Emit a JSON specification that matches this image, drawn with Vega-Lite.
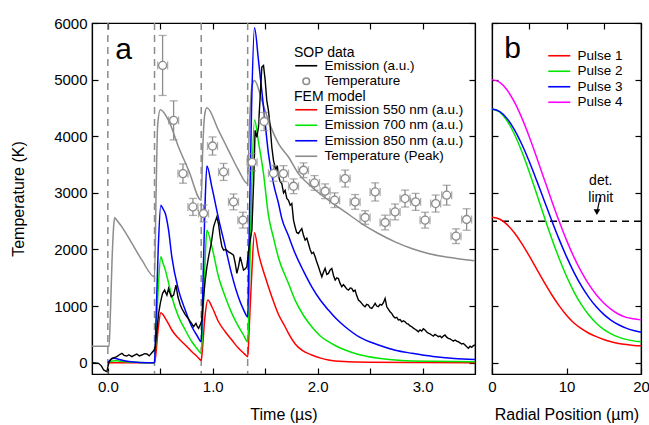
{
  "$schema": "https://vega.github.io/schema/vega-lite/v6.json",
  "background": "white",
  "padding": {"left": 10, "top": 15, "right": 0, "bottom": 0},
  "spacing": 10,
  "datasets": {
    "pulses": [{"t": 0}, {"t": 0.445}, {"t": 0.89}, {"t": 1.333}],
    "sop": [
      {"t": -0.151, "v": 0}, {"t": -0.12, "v": -5}, {"t": -0.088, "v": -12}, {"t": -0.06, "v": -60},
      {"t": -0.04, "v": -129}, {"t": -0.02, "v": -150}, {"t": -0.009, "v": -158}, {"t": 0.0, "v": -80},
      {"t": 0.013, "v": 18}, {"t": 0.025, "v": 50}, {"t": 0.038, "v": 76}, {"t": 0.06, "v": 90},
      {"t": 0.086, "v": 106}, {"t": 0.11, "v": 140}, {"t": 0.134, "v": 165}, {"t": 0.155, "v": 130},
      {"t": 0.181, "v": 118}, {"t": 0.2, "v": 140}, {"t": 0.229, "v": 106}, {"t": 0.25, "v": 130},
      {"t": 0.276, "v": 153}, {"t": 0.3, "v": 120}, {"t": 0.324, "v": 135}, {"t": 0.35, "v": 160},
      {"t": 0.372, "v": 153}, {"t": 0.395, "v": 120}, {"t": 0.419, "v": 176}, {"t": 0.442, "v": 223},
      {"t": 0.452, "v": 282}, {"t": 0.468, "v": 576}, {"t": 0.484, "v": 871}, {"t": 0.5, "v": 1048},
      {"t": 0.512, "v": 1150}, {"t": 0.522, "v": 1224}, {"t": 0.541, "v": 1282}, {"t": 0.563, "v": 1194},
      {"t": 0.579, "v": 1312}, {"t": 0.592, "v": 1230}, {"t": 0.605, "v": 1164}, {"t": 0.627, "v": 1194},
      {"t": 0.649, "v": 1370}, {"t": 0.668, "v": 1164}, {"t": 0.691, "v": 1018}, {"t": 0.705, "v": 960},
      {"t": 0.722, "v": 900}, {"t": 0.738, "v": 850}, {"t": 0.754, "v": 811}, {"t": 0.77, "v": 770},
      {"t": 0.786, "v": 723}, {"t": 0.8, "v": 690}, {"t": 0.817, "v": 635}, {"t": 0.84, "v": 695},
      {"t": 0.852, "v": 640}, {"t": 0.865, "v": 607}, {"t": 0.884, "v": 682}, {"t": 0.897, "v": 753},
      {"t": 0.91, "v": 1100}, {"t": 0.928, "v": 1459}, {"t": 0.945, "v": 1700}, {"t": 0.96, "v": 1869},
      {"t": 0.985, "v": 2100}, {"t": 1.008, "v": 2399}, {"t": 1.025, "v": 2500}, {"t": 1.039, "v": 2575},
      {"t": 1.055, "v": 2450}, {"t": 1.071, "v": 2222}, {"t": 1.087, "v": 2050}, {"t": 1.103, "v": 1988},
      {"t": 1.125, "v": 2000}, {"t": 1.15, "v": 1958}, {"t": 1.175, "v": 1930}, {"t": 1.198, "v": 1900},
      {"t": 1.215, "v": 1750}, {"t": 1.23, "v": 1577}, {"t": 1.246, "v": 1700}, {"t": 1.262, "v": 1869},
      {"t": 1.278, "v": 1750}, {"t": 1.293, "v": 1635}, {"t": 1.31, "v": 1660}, {"t": 1.325, "v": 1693},
      {"t": 1.34, "v": 1950}, {"t": 1.357, "v": 2164}, {"t": 1.373, "v": 2340}, {"t": 1.39, "v": 3200},
      {"t": 1.404, "v": 4104}, {"t": 1.42, "v": 3980}, {"t": 1.436, "v": 4163}, {"t": 1.452, "v": 4700},
      {"t": 1.468, "v": 5220}, {"t": 1.484, "v": 5250}, {"t": 1.5, "v": 4986}, {"t": 1.515, "v": 4633},
      {"t": 1.531, "v": 4456}, {"t": 1.548, "v": 4162}, {"t": 1.563, "v": 3810}, {"t": 1.579, "v": 3575},
      {"t": 1.6, "v": 3399}, {"t": 1.615, "v": 3480}, {"t": 1.627, "v": 3300}, {"t": 1.642, "v": 3200},
      {"t": 1.658, "v": 3163}, {"t": 1.675, "v": 3000}, {"t": 1.69, "v": 3045}, {"t": 1.706, "v": 2900},
      {"t": 1.722, "v": 2869}, {"t": 1.738, "v": 2780}, {"t": 1.754, "v": 2811}, {"t": 1.77, "v": 2517},
      {"t": 1.785, "v": 2399}, {"t": 1.8, "v": 2300}, {"t": 1.817, "v": 2282}, {"t": 1.833, "v": 2330},
      {"t": 1.849, "v": 2370}, {"t": 1.865, "v": 2250}, {"t": 1.881, "v": 2164}, {"t": 1.897, "v": 2200},
      {"t": 1.912, "v": 2105}, {"t": 1.928, "v": 2000}, {"t": 1.944, "v": 1929}, {"t": 1.96, "v": 1950},
      {"t": 1.976, "v": 1870}, {"t": 1.992, "v": 1780}, {"t": 2.008, "v": 1693}, {"t": 2.024, "v": 1600},
      {"t": 2.04, "v": 1517}, {"t": 2.056, "v": 1600}, {"t": 2.071, "v": 1665}, {"t": 2.087, "v": 1560},
      {"t": 2.103, "v": 1577}, {"t": 2.119, "v": 1640}, {"t": 2.135, "v": 1665}, {"t": 2.151, "v": 1540},
      {"t": 2.167, "v": 1459}, {"t": 2.183, "v": 1500}, {"t": 2.198, "v": 1488}, {"t": 2.214, "v": 1400},
      {"t": 2.23, "v": 1341}, {"t": 2.246, "v": 1380}, {"t": 2.262, "v": 1341}, {"t": 2.278, "v": 1300},
      {"t": 2.294, "v": 1282}, {"t": 2.31, "v": 1320}, {"t": 2.325, "v": 1312}, {"t": 2.341, "v": 1260},
      {"t": 2.357, "v": 1282}, {"t": 2.373, "v": 1180}, {"t": 2.389, "v": 1106}, {"t": 2.405, "v": 1080},
      {"t": 2.42, "v": 1048}, {"t": 2.436, "v": 1010}, {"t": 2.452, "v": 988}, {"t": 2.468, "v": 1030},
      {"t": 2.484, "v": 1018}, {"t": 2.5, "v": 970}, {"t": 2.516, "v": 959}, {"t": 2.532, "v": 1000},
      {"t": 2.548, "v": 1048}, {"t": 2.563, "v": 1000}, {"t": 2.579, "v": 988}, {"t": 2.595, "v": 1030},
      {"t": 2.611, "v": 1018}, {"t": 2.627, "v": 1060}, {"t": 2.643, "v": 1136}, {"t": 2.659, "v": 988},
      {"t": 2.675, "v": 940}, {"t": 2.69, "v": 900}, {"t": 2.706, "v": 871}, {"t": 2.722, "v": 820},
      {"t": 2.738, "v": 790}, {"t": 2.754, "v": 800}, {"t": 2.77, "v": 753}, {"t": 2.786, "v": 760},
      {"t": 2.802, "v": 720}, {"t": 2.818, "v": 740}, {"t": 2.833, "v": 723}, {"t": 2.85, "v": 690},
      {"t": 2.865, "v": 680}, {"t": 2.881, "v": 650}, {"t": 2.897, "v": 635}, {"t": 2.913, "v": 610},
      {"t": 2.929, "v": 590}, {"t": 2.945, "v": 570}, {"t": 2.96, "v": 547}, {"t": 2.976, "v": 580},
      {"t": 2.992, "v": 560}, {"t": 3.008, "v": 600}, {"t": 3.024, "v": 577}, {"t": 3.04, "v": 540},
      {"t": 3.055, "v": 520}, {"t": 3.071, "v": 510}, {"t": 3.087, "v": 489}, {"t": 3.103, "v": 470},
      {"t": 3.119, "v": 500}, {"t": 3.135, "v": 480}, {"t": 3.151, "v": 459}, {"t": 3.167, "v": 470},
      {"t": 3.183, "v": 440}, {"t": 3.198, "v": 470}, {"t": 3.214, "v": 489}, {"t": 3.23, "v": 450},
      {"t": 3.246, "v": 430}, {"t": 3.262, "v": 420}, {"t": 3.278, "v": 400}, {"t": 3.294, "v": 380},
      {"t": 3.31, "v": 400}, {"t": 3.325, "v": 380}, {"t": 3.341, "v": 370}, {"t": 3.357, "v": 350},
      {"t": 3.373, "v": 330}, {"t": 3.389, "v": 340}, {"t": 3.405, "v": 312}, {"t": 3.421, "v": 280},
      {"t": 3.437, "v": 254}, {"t": 3.453, "v": 290}, {"t": 3.468, "v": 270}, {"t": 3.484, "v": 300},
      {"t": 3.5, "v": 312}
    ],
    "temp": [
      {"t": 0.522, "v": 5250, "lo": 4720, "hi": 5780}, {"t": 0.627, "v": 4280, "lo": 3935, "hi": 4625},
      {"t": 0.716, "v": 3340, "lo": 3170, "hi": 3510}, {"t": 0.811, "v": 2751, "lo": 2601, "hi": 2901},
      {"t": 0.912, "v": 2635, "lo": 2485, "hi": 2785}, {"t": 0.998, "v": 3827, "lo": 3667, "hi": 3987},
      {"t": 1.103, "v": 3369, "lo": 3219, "hi": 3519}, {"t": 1.198, "v": 2840, "lo": 2700, "hi": 2980},
      {"t": 1.287, "v": 2517, "lo": 2377, "hi": 2657}, {"t": 1.375, "v": 3540, "lo": 3390, "hi": 3690},
      {"t": 1.49, "v": 4260, "lo": 4100, "hi": 4420}, {"t": 1.579, "v": 3345, "lo": 3205, "hi": 3485},
      {"t": 1.674, "v": 3340, "lo": 3200, "hi": 3480}, {"t": 1.77, "v": 3116, "lo": 2986, "hi": 3246},
      {"t": 1.865, "v": 3399, "lo": 3269, "hi": 3529}, {"t": 1.97, "v": 3175, "lo": 3045, "hi": 3305},
      {"t": 2.071, "v": 3028, "lo": 2898, "hi": 3158}, {"t": 2.162, "v": 2870, "lo": 2740, "hi": 3000},
      {"t": 2.262, "v": 3252, "lo": 3102, "hi": 3402}, {"t": 2.357, "v": 2840, "lo": 2710, "hi": 2970},
      {"t": 2.452, "v": 2564, "lo": 2444, "hi": 2684}, {"t": 2.548, "v": 3016, "lo": 2856, "hi": 3176},
      {"t": 2.643, "v": 2476, "lo": 2346, "hi": 2606}, {"t": 2.738, "v": 2663, "lo": 2523, "hi": 2803},
      {"t": 2.833, "v": 2899, "lo": 2749, "hi": 3049}, {"t": 2.934, "v": 2840, "lo": 2690, "hi": 2990},
      {"t": 3.024, "v": 2517, "lo": 2377, "hi": 2657}, {"t": 3.125, "v": 2811, "lo": 2661, "hi": 2961},
      {"t": 3.23, "v": 2958, "lo": 2783, "hi": 3133}, {"t": 3.319, "v": 2234, "lo": 2104, "hi": 2364},
      {"t": 3.42, "v": 2529, "lo": 2339, "hi": 2719}
    ],
    "fem": [
      {"s": "Temperature (Peak)", "t": -0.151, "v": 290}, {"s": "Temperature (Peak)", "t": 0.012, "v": 290},
      {"s": "Temperature (Peak)", "t": 0.025, "v": 900}, {"s": "Temperature (Peak)", "t": 0.04, "v": 1800},
      {"s": "Temperature (Peak)", "t": 0.055, "v": 2400}, {"s": "Temperature (Peak)", "t": 0.065, "v": 2565},
      {"s": "Temperature (Peak)", "t": 0.08, "v": 2530}, {"s": "Temperature (Peak)", "t": 0.134, "v": 2399},
      {"s": "Temperature (Peak)", "t": 0.23, "v": 2106}, {"s": "Temperature (Peak)", "t": 0.325, "v": 1811},
      {"s": "Temperature (Peak)", "t": 0.445, "v": 1517}, {"s": "Temperature (Peak)", "t": 0.46, "v": 3000},
      {"s": "Temperature (Peak)", "t": 0.475, "v": 4200}, {"s": "Temperature (Peak)", "t": 0.5, "v": 4469},
      {"s": "Temperature (Peak)", "t": 0.579, "v": 4280}, {"s": "Temperature (Peak)", "t": 0.674, "v": 3810},
      {"s": "Temperature (Peak)", "t": 0.77, "v": 3399}, {"s": "Temperature (Peak)", "t": 0.89, "v": 2870},
      {"s": "Temperature (Peak)", "t": 0.905, "v": 3800}, {"s": "Temperature (Peak)", "t": 0.925, "v": 4400},
      {"s": "Temperature (Peak)", "t": 0.944, "v": 4504}, {"s": "Temperature (Peak)", "t": 1.055, "v": 4104},
      {"s": "Temperature (Peak)", "t": 1.15, "v": 3751}, {"s": "Temperature (Peak)", "t": 1.246, "v": 3399},
      {"s": "Temperature (Peak)", "t": 1.331, "v": 3164}, {"s": "Temperature (Peak)", "t": 1.35, "v": 4200},
      {"s": "Temperature (Peak)", "t": 1.375, "v": 4900}, {"s": "Temperature (Peak)", "t": 1.398, "v": 4986},
      {"s": "Temperature (Peak)", "t": 1.468, "v": 4633}, {"s": "Temperature (Peak)", "t": 1.531, "v": 4280},
      {"s": "Temperature (Peak)", "t": 1.627, "v": 3870}, {"s": "Temperature (Peak)", "t": 1.722, "v": 3633},
      {"s": "Temperature (Peak)", "t": 1.817, "v": 3340}, {"s": "Temperature (Peak)", "t": 1.944, "v": 3104},
      {"s": "Temperature (Peak)", "t": 2.103, "v": 2870}, {"s": "Temperature (Peak)", "t": 2.262, "v": 2663},
      {"s": "Temperature (Peak)", "t": 2.42, "v": 2458}, {"s": "Temperature (Peak)", "t": 2.579, "v": 2282},
      {"s": "Temperature (Peak)", "t": 2.738, "v": 2134}, {"s": "Temperature (Peak)", "t": 2.896, "v": 2017},
      {"s": "Temperature (Peak)", "t": 3.055, "v": 1929}, {"s": "Temperature (Peak)", "t": 3.214, "v": 1870},
      {"s": "Temperature (Peak)", "t": 3.372, "v": 1829}, {"s": "Temperature (Peak)", "t": 3.5, "v": 1799},

      {"s": "Emission 550 nm (a.u.)", "t": 0, "v": 0}, {"s": "Emission 550 nm (a.u.)", "t": 0.2, "v": 0},
      {"s": "Emission 550 nm (a.u.)", "t": 0.445, "v": 0}, {"s": "Emission 550 nm (a.u.)", "t": 0.455, "v": 100},
      {"s": "Emission 550 nm (a.u.)", "t": 0.48, "v": 600}, {"s": "Emission 550 nm (a.u.)", "t": 0.505, "v": 882},
      {"s": "Emission 550 nm (a.u.)", "t": 0.525, "v": 850}, {"s": "Emission 550 nm (a.u.)", "t": 0.548, "v": 783},
      {"s": "Emission 550 nm (a.u.)", "t": 0.58, "v": 680}, {"s": "Emission 550 nm (a.u.)", "t": 0.61, "v": 577},
      {"s": "Emission 550 nm (a.u.)", "t": 0.674, "v": 430}, {"s": "Emission 550 nm (a.u.)", "t": 0.738, "v": 312},
      {"s": "Emission 550 nm (a.u.)", "t": 0.801, "v": 194}, {"s": "Emission 550 nm (a.u.)", "t": 0.85, "v": 110},
      {"s": "Emission 550 nm (a.u.)", "t": 0.89, "v": 40}, {"s": "Emission 550 nm (a.u.)", "t": 0.9, "v": 200},
      {"s": "Emission 550 nm (a.u.)", "t": 0.925, "v": 800}, {"s": "Emission 550 nm (a.u.)", "t": 0.954, "v": 1106},
      {"s": "Emission 550 nm (a.u.)", "t": 0.992, "v": 988}, {"s": "Emission 550 nm (a.u.)", "t": 1.055, "v": 723},
      {"s": "Emission 550 nm (a.u.)", "t": 1.119, "v": 547}, {"s": "Emission 550 nm (a.u.)", "t": 1.182, "v": 400},
      {"s": "Emission 550 nm (a.u.)", "t": 1.246, "v": 254}, {"s": "Emission 550 nm (a.u.)", "t": 1.3, "v": 160},
      {"s": "Emission 550 nm (a.u.)", "t": 1.334, "v": 106}, {"s": "Emission 550 nm (a.u.)", "t": 1.345, "v": 500},
      {"s": "Emission 550 nm (a.u.)", "t": 1.37, "v": 1500}, {"s": "Emission 550 nm (a.u.)", "t": 1.398, "v": 2293},
      {"s": "Emission 550 nm (a.u.)", "t": 1.436, "v": 1929}, {"s": "Emission 550 nm (a.u.)", "t": 1.5, "v": 1517},
      {"s": "Emission 550 nm (a.u.)", "t": 1.563, "v": 1164}, {"s": "Emission 550 nm (a.u.)", "t": 1.627, "v": 850},
      {"s": "Emission 550 nm (a.u.)", "t": 1.69, "v": 635}, {"s": "Emission 550 nm (a.u.)", "t": 1.722, "v": 518},
      {"s": "Emission 550 nm (a.u.)", "t": 1.786, "v": 330}, {"s": "Emission 550 nm (a.u.)", "t": 1.85, "v": 220},
      {"s": "Emission 550 nm (a.u.)", "t": 1.944, "v": 136}, {"s": "Emission 550 nm (a.u.)", "t": 2.03, "v": 80},
      {"s": "Emission 550 nm (a.u.)", "t": 2.103, "v": 48}, {"s": "Emission 550 nm (a.u.)", "t": 2.25, "v": 20},
      {"s": "Emission 550 nm (a.u.)", "t": 2.5, "v": 8}, {"s": "Emission 550 nm (a.u.)", "t": 3.0, "v": 2},
      {"s": "Emission 550 nm (a.u.)", "t": 3.5, "v": 0},

      {"s": "Emission 700 nm (a.u.)", "t": 0, "v": 0}, {"s": "Emission 700 nm (a.u.)", "t": 0.04, "v": 30},
      {"s": "Emission 700 nm (a.u.)", "t": 0.08, "v": 35}, {"s": "Emission 700 nm (a.u.)", "t": 0.15, "v": 20},
      {"s": "Emission 700 nm (a.u.)", "t": 0.3, "v": 5}, {"s": "Emission 700 nm (a.u.)", "t": 0.445, "v": 0},
      {"s": "Emission 700 nm (a.u.)", "t": 0.455, "v": 300}, {"s": "Emission 700 nm (a.u.)", "t": 0.48, "v": 1300},
      {"s": "Emission 700 nm (a.u.)", "t": 0.505, "v": 1869}, {"s": "Emission 700 nm (a.u.)", "t": 0.525, "v": 1760},
      {"s": "Emission 700 nm (a.u.)", "t": 0.548, "v": 1635}, {"s": "Emission 700 nm (a.u.)", "t": 0.58, "v": 1400},
      {"s": "Emission 700 nm (a.u.)", "t": 0.61, "v": 1164}, {"s": "Emission 700 nm (a.u.)", "t": 0.674, "v": 811},
      {"s": "Emission 700 nm (a.u.)", "t": 0.738, "v": 577}, {"s": "Emission 700 nm (a.u.)", "t": 0.801, "v": 370},
      {"s": "Emission 700 nm (a.u.)", "t": 0.85, "v": 250}, {"s": "Emission 700 nm (a.u.)", "t": 0.89, "v": 165},
      {"s": "Emission 700 nm (a.u.)", "t": 0.9, "v": 500}, {"s": "Emission 700 nm (a.u.)", "t": 0.925, "v": 1700},
      {"s": "Emission 700 nm (a.u.)", "t": 0.944, "v": 2340}, {"s": "Emission 700 nm (a.u.)", "t": 0.992, "v": 2046},
      {"s": "Emission 700 nm (a.u.)", "t": 1.055, "v": 1517}, {"s": "Emission 700 nm (a.u.)", "t": 1.119, "v": 1164},
      {"s": "Emission 700 nm (a.u.)", "t": 1.182, "v": 871}, {"s": "Emission 700 nm (a.u.)", "t": 1.246, "v": 635},
      {"s": "Emission 700 nm (a.u.)", "t": 1.29, "v": 500}, {"s": "Emission 700 nm (a.u.)", "t": 1.334, "v": 370},
      {"s": "Emission 700 nm (a.u.)", "t": 1.345, "v": 1000}, {"s": "Emission 700 nm (a.u.)", "t": 1.37, "v": 3000},
      {"s": "Emission 700 nm (a.u.)", "t": 1.398, "v": 4293}, {"s": "Emission 700 nm (a.u.)", "t": 1.436, "v": 3900},
      {"s": "Emission 700 nm (a.u.)", "t": 1.484, "v": 3340}, {"s": "Emission 700 nm (a.u.)", "t": 1.531, "v": 2600},
      {"s": "Emission 700 nm (a.u.)", "t": 1.58, "v": 2200}, {"s": "Emission 700 nm (a.u.)", "t": 1.627, "v": 1850},
      {"s": "Emission 700 nm (a.u.)", "t": 1.722, "v": 1400}, {"s": "Emission 700 nm (a.u.)", "t": 1.786, "v": 1100},
      {"s": "Emission 700 nm (a.u.)", "t": 1.87, "v": 820}, {"s": "Emission 700 nm (a.u.)", "t": 1.944, "v": 635},
      {"s": "Emission 700 nm (a.u.)", "t": 2.02, "v": 480}, {"s": "Emission 700 nm (a.u.)", "t": 2.103, "v": 370},
      {"s": "Emission 700 nm (a.u.)", "t": 2.18, "v": 290}, {"s": "Emission 700 nm (a.u.)", "t": 2.262, "v": 224},
      {"s": "Emission 700 nm (a.u.)", "t": 2.4, "v": 140}, {"s": "Emission 700 nm (a.u.)", "t": 2.58, "v": 78},
      {"s": "Emission 700 nm (a.u.)", "t": 2.8, "v": 40}, {"s": "Emission 700 nm (a.u.)", "t": 3.1, "v": 25},
      {"s": "Emission 700 nm (a.u.)", "t": 3.5, "v": 18},

      {"s": "Emission 850 nm (a.u.)", "t": 0, "v": 0}, {"s": "Emission 850 nm (a.u.)", "t": 0.03, "v": 60},
      {"s": "Emission 850 nm (a.u.)", "t": 0.06, "v": 80}, {"s": "Emission 850 nm (a.u.)", "t": 0.1, "v": 60},
      {"s": "Emission 850 nm (a.u.)", "t": 0.2, "v": 20}, {"s": "Emission 850 nm (a.u.)", "t": 0.3, "v": 5},
      {"s": "Emission 850 nm (a.u.)", "t": 0.445, "v": 0}, {"s": "Emission 850 nm (a.u.)", "t": 0.455, "v": 500},
      {"s": "Emission 850 nm (a.u.)", "t": 0.48, "v": 2000}, {"s": "Emission 850 nm (a.u.)", "t": 0.505, "v": 2781},
      {"s": "Emission 850 nm (a.u.)", "t": 0.525, "v": 2720}, {"s": "Emission 850 nm (a.u.)", "t": 0.548, "v": 2635},
      {"s": "Emission 850 nm (a.u.)", "t": 0.579, "v": 2340}, {"s": "Emission 850 nm (a.u.)", "t": 0.61, "v": 1869},
      {"s": "Emission 850 nm (a.u.)", "t": 0.674, "v": 1282}, {"s": "Emission 850 nm (a.u.)", "t": 0.738, "v": 929},
      {"s": "Emission 850 nm (a.u.)", "t": 0.801, "v": 635}, {"s": "Emission 850 nm (a.u.)", "t": 0.85, "v": 480},
      {"s": "Emission 850 nm (a.u.)", "t": 0.89, "v": 370}, {"s": "Emission 850 nm (a.u.)", "t": 0.9, "v": 900},
      {"s": "Emission 850 nm (a.u.)", "t": 0.925, "v": 2700}, {"s": "Emission 850 nm (a.u.)", "t": 0.944, "v": 3475},
      {"s": "Emission 850 nm (a.u.)", "t": 0.992, "v": 3100}, {"s": "Emission 850 nm (a.u.)", "t": 1.055, "v": 2550},
      {"s": "Emission 850 nm (a.u.)", "t": 1.119, "v": 2050}, {"s": "Emission 850 nm (a.u.)", "t": 1.182, "v": 1550},
      {"s": "Emission 850 nm (a.u.)", "t": 1.246, "v": 1150}, {"s": "Emission 850 nm (a.u.)", "t": 1.29, "v": 950},
      {"s": "Emission 850 nm (a.u.)", "t": 1.334, "v": 811}, {"s": "Emission 850 nm (a.u.)", "t": 1.345, "v": 2000},
      {"s": "Emission 850 nm (a.u.)", "t": 1.37, "v": 4500}, {"s": "Emission 850 nm (a.u.)", "t": 1.398, "v": 5915},
      {"s": "Emission 850 nm (a.u.)", "t": 1.436, "v": 5339}, {"s": "Emission 850 nm (a.u.)", "t": 1.484, "v": 4515},
      {"s": "Emission 850 nm (a.u.)", "t": 1.531, "v": 3693}, {"s": "Emission 850 nm (a.u.)", "t": 1.579, "v": 3164},
      {"s": "Emission 850 nm (a.u.)", "t": 1.627, "v": 2811}, {"s": "Emission 850 nm (a.u.)", "t": 1.658, "v": 2550},
      {"s": "Emission 850 nm (a.u.)", "t": 1.72, "v": 2250}, {"s": "Emission 850 nm (a.u.)", "t": 1.786, "v": 1929},
      {"s": "Emission 850 nm (a.u.)", "t": 1.87, "v": 1600}, {"s": "Emission 850 nm (a.u.)", "t": 1.944, "v": 1340},
      {"s": "Emission 850 nm (a.u.)", "t": 2.02, "v": 1120}, {"s": "Emission 850 nm (a.u.)", "t": 2.103, "v": 929},
      {"s": "Emission 850 nm (a.u.)", "t": 2.18, "v": 770}, {"s": "Emission 850 nm (a.u.)", "t": 2.262, "v": 635},
      {"s": "Emission 850 nm (a.u.)", "t": 2.4, "v": 450}, {"s": "Emission 850 nm (a.u.)", "t": 2.58, "v": 312},
      {"s": "Emission 850 nm (a.u.)", "t": 2.74, "v": 220}, {"s": "Emission 850 nm (a.u.)", "t": 2.9, "v": 166},
      {"s": "Emission 850 nm (a.u.)", "t": 3.1, "v": 110}, {"s": "Emission 850 nm (a.u.)", "t": 3.3, "v": 75},
      {"s": "Emission 850 nm (a.u.)", "t": 3.5, "v": 55}
    ],
    "radial": [
      {"p": "Pulse 1", "r": 0, "v": 2570}, {"p": "Pulse 1", "r": 1, "v": 2538}, {"p": "Pulse 1", "r": 2, "v": 2443},
      {"p": "Pulse 1", "r": 3, "v": 2294}, {"p": "Pulse 1", "r": 4, "v": 2104}, {"p": "Pulse 1", "r": 5, "v": 1886},
      {"p": "Pulse 1", "r": 6, "v": 1653}, {"p": "Pulse 1", "r": 7, "v": 1422}, {"p": "Pulse 1", "r": 8, "v": 1204},
      {"p": "Pulse 1", "r": 9, "v": 1007}, {"p": "Pulse 1", "r": 10, "v": 837}, {"p": "Pulse 1", "r": 11, "v": 700},
      {"p": "Pulse 1", "r": 12, "v": 600}, {"p": "Pulse 1", "r": 13, "v": 520}, {"p": "Pulse 1", "r": 14, "v": 460},
      {"p": "Pulse 1", "r": 15, "v": 410}, {"p": "Pulse 1", "r": 16, "v": 370}, {"p": "Pulse 1", "r": 17, "v": 340},
      {"p": "Pulse 1", "r": 18, "v": 320}, {"p": "Pulse 1", "r": 19, "v": 305}, {"p": "Pulse 1", "r": 20, "v": 298},
      {"p": "Pulse 2", "r": 0, "v": 4480}, {"p": "Pulse 2", "r": 1, "v": 4429}, {"p": "Pulse 2", "r": 2, "v": 4278},
      {"p": "Pulse 2", "r": 3, "v": 4039}, {"p": "Pulse 2", "r": 4, "v": 3729}, {"p": "Pulse 2", "r": 5, "v": 3369},
      {"p": "Pulse 2", "r": 6, "v": 2980}, {"p": "Pulse 2", "r": 7, "v": 2584}, {"p": "Pulse 2", "r": 8, "v": 2200},
      {"p": "Pulse 2", "r": 9, "v": 1844}, {"p": "Pulse 2", "r": 10, "v": 1526}, {"p": "Pulse 2", "r": 11, "v": 1252},
      {"p": "Pulse 2", "r": 12, "v": 1024}, {"p": "Pulse 2", "r": 13, "v": 841}, {"p": "Pulse 2", "r": 14, "v": 697},
      {"p": "Pulse 2", "r": 15, "v": 588}, {"p": "Pulse 2", "r": 16, "v": 509}, {"p": "Pulse 2", "r": 17, "v": 452},
      {"p": "Pulse 2", "r": 18, "v": 412}, {"p": "Pulse 2", "r": 19, "v": 385}, {"p": "Pulse 2", "r": 20, "v": 368},
      {"p": "Pulse 3", "r": 0, "v": 4480}, {"p": "Pulse 3", "r": 1, "v": 4438}, {"p": "Pulse 3", "r": 2, "v": 4315},
      {"p": "Pulse 3", "r": 3, "v": 4118}, {"p": "Pulse 3", "r": 4, "v": 3859}, {"p": "Pulse 3", "r": 5, "v": 3553},
      {"p": "Pulse 3", "r": 6, "v": 3216}, {"p": "Pulse 3", "r": 7, "v": 2866}, {"p": "Pulse 3", "r": 8, "v": 2516},
      {"p": "Pulse 3", "r": 9, "v": 2182}, {"p": "Pulse 3", "r": 10, "v": 1873}, {"p": "Pulse 3", "r": 11, "v": 1596},
      {"p": "Pulse 3", "r": 12, "v": 1356}, {"p": "Pulse 3", "r": 13, "v": 1153}, {"p": "Pulse 3", "r": 14, "v": 986},
      {"p": "Pulse 3", "r": 15, "v": 853}, {"p": "Pulse 3", "r": 16, "v": 749}, {"p": "Pulse 3", "r": 17, "v": 670},
      {"p": "Pulse 3", "r": 18, "v": 611}, {"p": "Pulse 3", "r": 19, "v": 569}, {"p": "Pulse 3", "r": 20, "v": 539},
      {"p": "Pulse 4", "r": 0, "v": 5000}, {"p": "Pulse 4", "r": 1, "v": 4954}, {"p": "Pulse 4", "r": 2, "v": 4820},
      {"p": "Pulse 4", "r": 3, "v": 4606}, {"p": "Pulse 4", "r": 4, "v": 4324}, {"p": "Pulse 4", "r": 5, "v": 3992},
      {"p": "Pulse 4", "r": 6, "v": 3625}, {"p": "Pulse 4", "r": 7, "v": 3244}, {"p": "Pulse 4", "r": 8, "v": 2865},
      {"p": "Pulse 4", "r": 9, "v": 2501}, {"p": "Pulse 4", "r": 10, "v": 2165}, {"p": "Pulse 4", "r": 11, "v": 1864},
      {"p": "Pulse 4", "r": 12, "v": 1602}, {"p": "Pulse 4", "r": 13, "v": 1382}, {"p": "Pulse 4", "r": 14, "v": 1200},
      {"p": "Pulse 4", "r": 15, "v": 1055}, {"p": "Pulse 4", "r": 16, "v": 942}, {"p": "Pulse 4", "r": 17, "v": 856},
      {"p": "Pulse 4", "r": 18, "v": 800}, {"p": "Pulse 4", "r": 19, "v": 775}, {"p": "Pulse 4", "r": 20, "v": 756}
    ]
  },
  "hconcat": [
    {
      "width": 383,
      "height": 351,
      "layer": [
        {
          "layer": [
            {
              "data": {"name": "pulses"},
              "mark": {"type": "rule", "color": "#8c8c8c", "strokeWidth": 1.5, "strokeDash": [7, 5]},
              "encoding": {
                "x": {
                  "field": "t", "type": "quantitative",
                  "scale": {"domain": [-0.151, 3.5], "nice": false, "zero": false},
                  "axis": {
                    "orient": "bottom", "title": "Time (µs)",
                    "values": [0, 0.5, 1, 1.5, 2, 2.5, 3],
                    "labelExpr": "datum.value % 1 == 0 ? format(datum.value, '.1f') : ''",
                    "titlePadding": 12
                  }
                }
              }
            },
            {
              "data": {"name": "fem"},
              "mark": {"type": "line", "strokeWidth": 1.5, "interpolate": "monotone", "clip": true},
              "encoding": {
                "x": {"field": "t", "type": "quantitative"},
                "y": {
                  "field": "v", "type": "quantitative",
                  "scale": {"domain": [-200, 6000], "nice": false, "zero": false},
                  "axis": {
                    "orient": "left", "title": "Temperature (K)", "format": "d",
                    "values": [0, 1000, 2000, 3000, 4000, 5000, 6000],
                    "titlePadding": 27
                  }
                },
                "color": {
                  "field": "s", "type": "nominal",
                  "scale": {
                    "domain": ["Emission 550 nm (a.u.)", "Emission 700 nm (a.u.)", "Emission 850 nm (a.u.)", "Temperature (Peak)"],
                    "range": ["#ff0000", "#00e600", "#0000ff", "#8c8c8c"]
                  },
                  "legend": {"title": "FEM model", "orient": "none", "legendX": 202, "legendY": 67, "symbolType": "M-1,0L3,0"}
                }
              }
            },
            {
              "data": {"name": "sop"},
              "mark": {"type": "line", "strokeWidth": 1.4, "clip": true},
              "encoding": {
                "x": {"field": "t", "type": "quantitative"},
                "y": {"field": "v", "type": "quantitative"},
                "stroke": {
                  "datum": "Emission (a.u.)", "type": "nominal",
                  "scale": {"domain": ["Emission (a.u.)", "Temperature"], "range": ["black", "#8c8c8c"]},
                  "legend": {"title": "SOP data", "orient": "none", "legendX": 202, "legendY": 23, "symbolFillColor": "white"}
                }
              }
            },
            {
              "data": {"name": "temp"},
              "mark": {"type": "rule", "color": "#8c8c8c", "strokeWidth": 1.3},
              "encoding": {
                "x": {"field": "t", "type": "quantitative"},
                "y": {"field": "lo", "type": "quantitative"},
                "y2": {"field": "hi"}
              }
            },
            {
              "data": {"name": "temp"},
              "mark": {"type": "tick", "orient": "horizontal", "size": 8, "thickness": 1.3, "color": "#8c8c8c"},
              "encoding": {
                "x": {"field": "t", "type": "quantitative"},
                "y": {"field": "lo", "type": "quantitative"}
              }
            },
            {
              "data": {"name": "temp"},
              "mark": {"type": "tick", "orient": "horizontal", "size": 8, "thickness": 1.3, "color": "#8c8c8c"},
              "encoding": {
                "x": {"field": "t", "type": "quantitative"},
                "y": {"field": "hi", "type": "quantitative"}
              }
            },
            {
              "data": {"name": "temp"},
              "mark": {"type": "tick", "orient": "vertical", "size": 8, "thickness": 1.3, "color": "#8c8c8c", "xOffset": -5, "clip": true},
              "encoding": {
                "x": {"field": "t", "type": "quantitative"},
                "y": {"field": "v", "type": "quantitative"}
              }
            },
            {
              "data": {"name": "temp"},
              "mark": {"type": "tick", "orient": "vertical", "size": 8, "thickness": 1.3, "color": "#8c8c8c", "xOffset": 5, "clip": true},
              "encoding": {
                "x": {"field": "t", "type": "quantitative"},
                "y": {"field": "v", "type": "quantitative"}
              }
            },
            {
              "data": {"name": "temp"},
              "mark": {"type": "point", "filled": true, "fill": "white", "size": 178, "strokeWidth": 1.3, "opacity": 1, "xOffset": -6.67},
              "encoding": {
                "x": {"field": "t", "type": "quantitative"},
                "y": {"field": "v", "type": "quantitative"},
                "stroke": {
                  "datum": "Temperature", "type": "nominal",
                  "scale": {"domain": ["Emission (a.u.)", "Temperature"], "range": ["black", "#8c8c8c"]},
                  "legend": {"title": "SOP data", "orient": "none", "legendX": 202, "legendY": 23, "symbolFillColor": "white"}
                },
                "shape": {
                  "datum": "Temperature", "type": "nominal",
                  "scale": {"domain": ["Emission (a.u.)", "Temperature"], "range": ["M-1,0L3,0", "M1.6,0A0.6,0.6,0,1,1,0.4,0A0.6,0.6,0,1,1,1.6,0Z"]},
                  "legend": {"title": "SOP data", "orient": "none", "legendX": 202, "legendY": 23, "symbolFillColor": "white"}
                }
              }
            },
            {
              "data": {"values": [{}]},
              "mark": {"type": "text", "text": "a", "fontSize": 30, "align": "center", "baseline": "alphabetic"},
              "encoding": {
                "x": {"datum": 0.15, "type": "quantitative"},
                "y": {"datum": 5369, "type": "quantitative"}
              }
            }
          ]
        },
        {
          "data": {"values": [{}]},
          "mark": {"type": "point", "opacity": 0},
          "encoding": {
            "x": {
              "datum": 0, "type": "quantitative",
              "scale": {"domain": [-0.151, 3.5], "nice": false, "zero": false},
              "axis": {"orient": "top", "labels": false, "title": null, "values": [0, 0.5, 1, 1.5, 2, 2.5, 3]}
            },
            "y": {
              "datum": 0, "type": "quantitative",
              "scale": {"domain": [-200, 6000], "nice": false, "zero": false},
              "axis": {"orient": "right", "labels": false, "title": null, "values": [0, 1000, 2000, 3000, 4000, 5000, 6000]}
            }
          }
        }
      ],
      "resolve": {"axis": {"x": "independent", "y": "independent"}}
    },
    {
      "width": 149,
      "height": 351,
      "layer": [
        {
          "layer": [
            {
              "data": {"values": [{}]},
              "mark": {"type": "rule", "color": "black", "strokeWidth": 1.5, "strokeDash": [7, 5]},
              "encoding": {"y": {"datum": 2500, "type": "quantitative"}}
            },
            {
              "data": {"name": "radial"},
              "mark": {"type": "line", "strokeWidth": 1.5, "interpolate": "monotone"},
              "encoding": {
                "x": {
                  "field": "r", "type": "quantitative",
                  "scale": {"domain": [0, 20], "nice": false, "zero": false},
                  "axis": {"orient": "bottom", "title": "Radial Position (µm)", "values": [0, 5, 10, 15, 20], "titlePadding": 12}
                },
                "y": {
                  "field": "v", "type": "quantitative",
                  "scale": {"domain": [-200, 6000], "nice": false, "zero": false},
                  "axis": {"orient": "left", "labels": false, "title": null, "values": [0, 1000, 2000, 3000, 4000, 5000, 6000]}
                },
                "color": {
                  "field": "p", "type": "nominal",
                  "scale": {"domain": ["Pulse 1", "Pulse 2", "Pulse 3", "Pulse 4"], "range": ["#ff0000", "#00e600", "#0000ff", "#ff00ff"]},
                  "legend": {"title": null, "orient": "none", "legendX": 55, "legendY": 26, "symbolType": "M-1,0L3,0"}
                }
              }
            },
            {
              "data": {"values": [{}]},
              "mark": {"type": "text", "text": ["det.", "limit"], "fontSize": 14, "lineHeight": 17, "align": "center", "baseline": "middle"},
              "encoding": {
                "x": {"datum": 14.6, "type": "quantitative"},
                "y": {"datum": 3210, "type": "quantitative"}
              }
            },
            {
              "data": {"values": [{}]},
              "mark": {"type": "rule", "color": "black", "strokeWidth": 1.2},
              "encoding": {
                "x": {"datum": 14.5, "type": "quantitative"},
                "y": {"datum": 2910, "type": "quantitative"},
                "x2": {"datum": 14.15},
                "y2": {"datum": 2690}
              }
            },
            {
              "data": {"values": [{}]},
              "mark": {"type": "point", "shape": "triangle-down", "filled": true, "color": "black", "size": 45, "opacity": 1},
              "encoding": {
                "x": {"datum": 14.08, "type": "quantitative"},
                "y": {"datum": 2660, "type": "quantitative"}
              }
            },
            {
              "data": {"values": [{}]},
              "mark": {"type": "text", "text": "b", "fontSize": 30, "align": "center", "baseline": "alphabetic"},
              "encoding": {
                "x": {"datum": 2.78, "type": "quantitative"},
                "y": {"datum": 5380, "type": "quantitative"}
              }
            }
          ]
        },
        {
          "data": {"values": [{}]},
          "mark": {"type": "point", "opacity": 0},
          "encoding": {
            "x": {
              "datum": 0, "type": "quantitative",
              "scale": {"domain": [0, 20], "nice": false, "zero": false},
              "axis": {"orient": "top", "labels": false, "title": null, "values": [0, 5, 10, 15, 20]}
            },
            "y": {
              "datum": 0, "type": "quantitative",
              "scale": {"domain": [-200, 6000], "nice": false, "zero": false},
              "axis": {"orient": "right", "labels": false, "title": null, "values": [0, 1000, 2000, 3000, 4000, 5000, 6000]}
            }
          }
        }
      ],
      "resolve": {"axis": {"x": "independent", "y": "independent"}}
    }
  ],
  "resolve": {"scale": {"color": "independent"}, "legend": {"color": "independent"}},
  "config": {
    "font": "Liberation Sans",
    "view": {"stroke": "black", "strokeWidth": 1.2},
    "axis": {
      "grid": false,
      "domainColor": "black",
      "domainWidth": 1.2,
      "tickColor": "black",
      "tickWidth": 1.2,
      "tickSize": -6,
      "labelPadding": 11,
      "labelFontSize": 15,
      "labelColor": "black",
      "labelFlush": false,
      "labelOverlap": false,
      "titleFontSize": 16,
      "titleFontWeight": "normal",
      "titleColor": "black"
    },
    "legend": {
      "labelFontSize": 13.5,
      "labelColor": "black",
      "titleFontSize": 14,
      "titleFontWeight": "normal",
      "titleColor": "black",
      "titlePadding": -1,
      "symbolSize": 121,
      "symbolStrokeWidth": 1.6,
      "rowPadding": 0.5,
      "labelOffset": 17
    }
  }
}
